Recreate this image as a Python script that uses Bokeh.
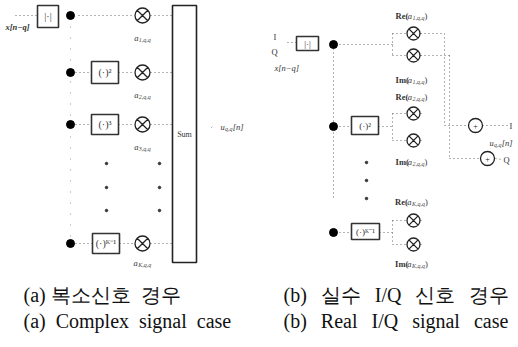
from bokeh.plotting import figure
from bokeh.models import Range1d
from bokeh.embed import file_html
from bokeh.resources import INLINE
from bokeh.core.properties import value

W, H = 518, 347
SERIF = "Liberation Serif"
LINE = "#666666"
DOT = "1 3"

# ---------------- left panel: complex signal case ----------------
L_input_y = 15
L_dot_x = 70
L_row_y = [15, 72, 124, 243]
L_ops = ["|·|", "(·)²", "(·)³", "(·)ᴷ⁻¹"]
L_box_x0 = [37, 91, 91, 92]
L_box_x1 = [58, 118, 118, 119]
L_box_half = [11, 11, 10, 10]
L_mult_x = 142
L_coef_sub = ["1,q,q", "2,q,q", "3,q,q", "K,q,q"]
L_coef_y = [37, 94, 146, 262]
L_ell_x = [106, 159]
L_ell_y = [163, 187, 210]
L_sum = dict(left=172, right=196, top=5, bottom=262)
L_sum_label = "Sum"

# ---------------- right panel: real I/Q signal case ----------------
R_dot_x = 333
R_row_y = [44, 126, 232]
R_ops = ["|·|", "(·)²", "(·)ᴷ⁻¹"]
R_box_x0 = [296, 351, 351]
R_box_x1 = [318, 378, 379]
R_box_half = [7, 9, 8]
R_split_x = 392
R_mult_x = 413
R_mult_re_y = [33, 113, 220]
R_mult_im_y = [55, 140, 244]
R_re_label_y = [15, 96, 201]
R_im_label_y = [79, 161, 263]
R_sub = ["1,q,q", "2,q,q", "K,q,q"]
R_ell_x = 366
R_ell_y = [162, 180, 198]
R_bus_I_x, R_bus_Q_x = 444, 449
R_add_I = (475, 125)
R_add_Q = (487, 158)

SP = "\u2002"
SP2 = "\u2002\u2009"
CAPTIONS_L = ["(a) 복소신호" + SP + "경우", "(a)" + SP + "Complex" + SP + "signal" + SP + "case"]
CAPTIONS_R = ["(b)" + SP2 + "실수" + SP2 + "I/Q" + SP2 + "신호" + SP2 + "경우",
              "(b)" + SP2 + "Real" + SP2 + "I/Q" + SP2 + "signal" + SP2 + "case"]
CAPTION_Y = [294, 320]
CAPTION_X = [23, 283]

p = figure(width=W, height=H, x_range=Range1d(0, W), y_range=Range1d(H, 0),
           output_backend="svg", toolbar_location=None,
           x_axis_type=None, y_axis_type=None, min_border=0)
p.grid.visible = False
p.outline_line_color = None
p.background_fill_color = "white"
p.border_fill_color = "white"

# dotted connections
sx0, sy0, sx1, sy1 = [], [], [], []
def seg(a, b, c, d):
    sx0.append(a); sy0.append(b); sx1.append(c); sy1.append(d)

# left
seg(15, L_input_y, L_box_x0[0], L_input_y)
seg(78, L_row_y[0], L_mult_x - 8, L_row_y[0])
for i, y in enumerate(L_row_y):
    if i > 0:
        seg(L_dot_x + 5, y, L_box_x0[i], y)
        seg(L_box_x1[i], y, L_mult_x - 8, y)
    seg(L_mult_x + 8, y, L_sum["left"], y)
p.segment(x0=[L_dot_x], y0=[L_row_y[0]], x1=[L_dot_x], y1=[L_row_y[-1]],
          line_color="#999999", line_dash="1 10", line_width=1)
seg(L_sum["right"] + 15, 127, L_sum["right"] + 17, 125)

# right
seg(287, R_row_y[0] - 2, R_box_x0[0], R_row_y[0] - 2)
seg(R_dot_x + 6, R_row_y[0], R_split_x, R_row_y[0])
for i, y in enumerate(R_row_y):
    if i > 0:
        seg(R_dot_x + 6, y, R_box_x0[i], y)
        seg(R_box_x1[i], y, R_split_x, y)
    seg(R_split_x, R_mult_re_y[i], R_split_x, R_mult_im_y[i])
    seg(R_split_x, R_mult_re_y[i], R_mult_x - 7, R_mult_re_y[i])
    seg(R_split_x, R_mult_im_y[i], R_mult_x - 7, R_mult_im_y[i])
    seg(R_mult_x + 7, R_mult_re_y[i], R_mult_x + 11, R_mult_re_y[i])
    seg(R_mult_x + 7, R_mult_im_y[i], R_mult_x + 11, R_mult_im_y[i])
seg(R_dot_x, R_row_y[0], R_dot_x, R_ell_y[-1])
seg(R_mult_x + 7, R_mult_re_y[0], R_bus_I_x, R_mult_re_y[0])
seg(R_bus_I_x, R_mult_re_y[0], R_bus_I_x, R_add_I[1])
seg(R_bus_I_x, R_add_I[1], R_add_I[0] - 7, R_add_I[1])
seg(R_mult_x + 7, R_mult_im_y[0], R_bus_Q_x, R_mult_im_y[0])
seg(R_bus_Q_x, R_mult_im_y[0], R_bus_Q_x, R_add_Q[1])
seg(R_bus_Q_x, R_add_Q[1], R_add_Q[0] - 7, R_add_Q[1])
seg(R_add_I[0] + 7, R_add_I[1], 507, R_add_I[1])
seg(R_add_Q[0] + 8, R_add_Q[1], 501, R_add_Q[1] + 1)

p.segment(x0=sx0, y0=sy0, x1=sx1, y1=sy1, line_color=LINE, line_dash=DOT, line_width=1)

# boxes
bl, br, bt, bb = [], [], [], []
for i, y in enumerate(L_row_y):
    bl.append(L_box_x0[i]); br.append(L_box_x1[i])
    yc = L_input_y + 1 if i == 0 else y
    bt.append(yc - L_box_half[i]); bb.append(yc + L_box_half[i])
for i, y in enumerate(R_row_y):
    bl.append(R_box_x0[i]); br.append(R_box_x1[i])
    yc = y - 1
    bt.append(yc - R_box_half[i]); bb.append(yc + R_box_half[i])
p.quad(left=bl, right=br, top=bt, bottom=bb, fill_color="white",
       line_color="#333333", line_width=1.6)
p.quad(left=[L_sum["left"]], right=[L_sum["right"]], top=[L_sum["top"]],
       bottom=[L_sum["bottom"]], fill_color=None, line_color="#222222", line_width=1.6)

# box operator labels
ox = [(a + b) / 2 for a, b in zip(L_box_x0, L_box_x1)] + [(a + b) / 2 for a, b in zip(R_box_x0, R_box_x1)]
oy = [L_input_y + 1] + L_row_y[1:] + [y - 1 for y in R_row_y]
op_sizes = ["10px"] * len(L_ops) + ["9px"] * len(R_ops)
for x, y, t, s in zip(ox, oy, L_ops + R_ops, op_sizes):
    p.text(x=[x], y=[y], text=[t], text_font=value(SERIF), text_font_size=s,
           text_align="center", text_baseline="middle", text_color="#333333")

# black junction dots
p.scatter(x=[L_dot_x] * len(L_row_y) + [R_dot_x] * len(R_row_y),
          y=L_row_y + R_row_y, size=8, color="black")

# multipliers
p.scatter(x=[L_mult_x] * len(L_row_y), y=L_row_y, marker="circle_x", size=15,
          fill_color="white", line_color="#222222", line_width=1.3)
p.scatter(x=[R_mult_x] * (2 * len(R_row_y)), y=R_mult_re_y + R_mult_im_y,
          marker="circle_x", size=13, fill_color="white", line_color="#222222", line_width=1.3)
# adders
p.scatter(x=[R_add_I[0], R_add_Q[0]], y=[R_add_I[1], R_add_Q[1]], marker="circle",
          size=14, fill_color="white", line_color="#222222", line_width=1.3)
p.text(x=[R_add_I[0], R_add_Q[0]], y=[R_add_I[1], R_add_Q[1]], text=["+", "+"],
       text_font=value(SERIF), text_font_size="8px", text_align="center",
       text_baseline="middle", text_color="#222222")

# ellipsis dots
p.scatter(x=[L_ell_x[0]] * 3 + [L_ell_x[1]] * 3 + [R_ell_x] * 3,
          y=L_ell_y * 2 + R_ell_y, size=2.5, color="#333333")

# texts with subscripts
EM = {"R": 0.67, "e": 0.44, "(": 0.33, ")": 0.33, "I": 0.33, "m": 0.78, "a": 0.5,
      "u": 0.5, "[": 0.39, "]": 0.39, "n": 0.5, "q": 0.5, ",": 0.25, "K": 0.67,
      "x": 0.44, "−": 0.68, "Q": 0.72, "1": 0.5, "2": 0.5, "3": 0.5}
def tw(t, size):
    return sum(EM.get(c, 0.5) for c in t) * size

mt_x, mt_y, mt_t, mt_f = [], [], [], []
st_x, st_y, st_t = [], [], []
MAIN, SUB = 8.5, 6
def label(x, y, parts, cx=True):
    widths = [tw(t, SUB if s else MAIN) + (0.5 if s else 0) for t, s, _ in parts]
    x0 = x - sum(widths) / 2 if cx else x
    for (t, s, st), w in zip(parts, widths):
        if s:
            st_x.append(x0 + 0.3); st_y.append(y + 2); st_t.append(t)
        else:
            mt_x.append(x0); mt_y.append(y); mt_t.append(t); mt_f.append(st)
        x0 += w

for sub, y in zip(L_coef_sub, L_coef_y):
    label(L_mult_x, y, [("a", False, "italic"), (sub, True, "italic")])
for sub, y in zip(R_sub, R_re_label_y):
    label(R_mult_x - 2, y, [("Re(", False, "bold"), ("a", False, "italic"), (sub, True, "italic"), (")", False, "normal")])
for sub, y in zip(R_sub, R_im_label_y):
    label(R_mult_x - 2, y, [("Im(", False, "bold"), ("a", False, "italic"), (sub, True, "italic"), (")", False, "normal")])
label(5, 26, [("x[n−q]", False, "bold italic")], cx=False)
label(274, 67, [("x[n−q]", False, "italic")], cx=False)
label(220, 126, [("u", False, "italic"), ("q,q", True, "italic"), ("[n]", False, "italic")], cx=False)
label(489, 142, [("u", False, "italic"), ("q,q", True, "italic"), ("[n]", False, "italic")], cx=False)
label(273, 36, [("I", False, "normal")], cx=False)
label(271, 51, [("Q", False, "normal")], cx=False)
label(509, 125, [("I", False, "normal")], cx=False)
label(503, 159, [("Q", False, "normal")], cx=False)

for style in sorted(set(mt_f)):
    idx = [i for i, f in enumerate(mt_f) if f == style]
    p.text(x=[mt_x[i] for i in idx], y=[mt_y[i] for i in idx], text=[mt_t[i] for i in idx],
           text_font=value(SERIF), text_font_size=f"{MAIN}px", text_font_style=style,
           text_align="left", text_baseline="middle", text_color="#333333")
p.text(x=st_x, y=st_y, text=st_t, text_font=value(SERIF), text_font_size=f"{SUB}px",
       text_font_style="italic", text_align="left", text_baseline="middle", text_color="#444444")

p.text(x=[(L_sum["left"] + L_sum["right"]) / 2], y=[134], text=[L_sum_label],
       text_font=value(SERIF), text_font_size="8px", text_align="center",
       text_baseline="middle", text_color="#333333")

# captions
for cx, caps in zip(CAPTION_X, [CAPTIONS_L, CAPTIONS_R]):
    p.text(x=[cx] * 2, y=CAPTION_Y, text=caps, text_font=value(SERIF),
           text_font_size="20px", text_align="left", text_baseline="middle",
           text_color="#111111")

open("out.html", "w").write(file_html(p, INLINE))
